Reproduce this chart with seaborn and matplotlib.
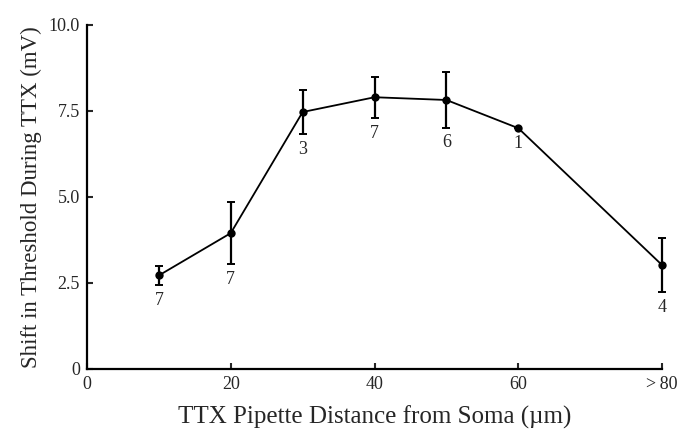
import matplotlib
matplotlib.use("Agg")
import matplotlib.pyplot as plt
import seaborn as sns
import pandas as pd

distance = [10, 20, 30, 40, 50, 60, 80]
shift = [2.72, 3.95, 7.47, 7.9, 7.82, 7.0, 3.02]
sem = [0.28, 0.9, 0.63, 0.6, 0.8, 0.0, 0.78]
n_cells = [7, 7, 3, 7, 6, 1, 4]
xticks = [0, 20, 40, 60, 80]
xticklabels = ["0", "20", "40", "60", ">\u200980"]
yticks = [0, 2.5, 5.0, 7.5, 10.0]
yticklabels = ["0", "2.5", "5.0", "7.5", "10.0"]

sns.set_style("white")
plt.rcParams["font.family"] = ["Liberation Serif", "DejaVu Serif"]
plt.rcParams["xtick.direction"] = "in"
plt.rcParams["ytick.direction"] = "in"

df = pd.DataFrame({"distance": distance, "shift": shift})

fig = plt.figure(figsize=(6.77, 4.34), dpi=100)
ax = fig.add_axes([0.1285, 0.1498, 0.978 - 0.1285, 0.9424 - 0.1498])

sns.lineplot(data=df, x="distance", y="shift", ax=ax, color="black",
             linewidth=1.3, marker="o", markersize=6, markeredgewidth=0,
             clip_on=False)
eb = ax.errorbar(distance, shift, yerr=sem, fmt="none", ecolor="black",
                 elinewidth=1.6, capsize=3, capthick=1.4)
for art in list(eb.lines[1]) + list(eb.lines[2]):
    art.set_clip_on(False)

for x, y, e, n in zip(distance, shift, sem, n_cells):
    ax.annotate(str(n), (x, y - e), xytext=(0, -5), textcoords="offset points",
                ha="center", va="top", fontsize=13, annotation_clip=False)

ax.set_xlim(0, 80)
ax.set_ylim(0, 10)
ax.set_xticks(xticks)
ax.set_xticklabels(xticklabels, fontsize=13)
ax.set_yticks(yticks)
ax.set_yticklabels(yticklabels, fontsize=13)
ax.tick_params(direction="in", length=4, width=1.5, pad=5,
               bottom=True, left=True)
ax.set_xlabel("TTX Pipette Distance from Soma (\u00b5m)", fontsize=18, labelpad=9)
ax.set_ylabel("Shift in Threshold During TTX (mV)", fontsize=16.5, labelpad=5)

sns.despine(ax=ax)
for s in ["left", "bottom"]:
    ax.spines[s].set_linewidth(1.6)
    ax.spines[s].set_color("black")

fig.savefig("out.png", dpi=100)
